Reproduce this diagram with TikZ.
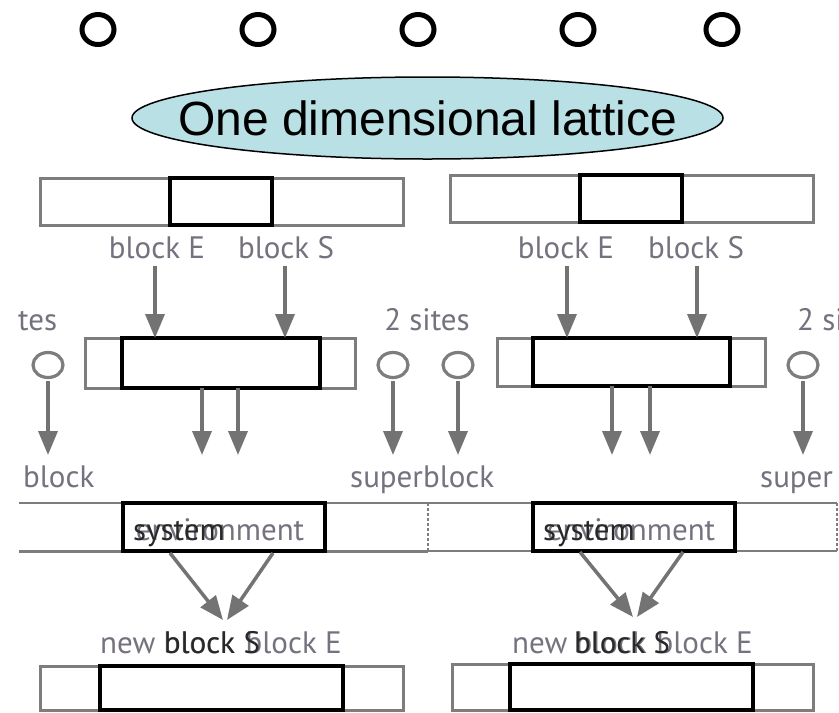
\documentclass[tikz,border=0pt]{standalone}
\usepackage{fontspec}
\setmainfont{Liberation Sans}
\newfontfamily\ptsans{PT Sans}
\usetikzlibrary{arrows.meta,shapes.geometric}
\definecolor{ellfill}{RGB}{185,224,228}
\definecolor{lblgray}{RGB}{118,113,126}
\definecolor{arrgray}{RGB}{115,115,115}
\definecolor{boxgray}{RGB}{125,125,125}
\definecolor{darktxt}{RGB}{40,40,40}
\newcommand\lblsize{\ptsans\fontsize{31pt}{31pt}\selectfont}
\begin{document}
\begin{tikzpicture}[x=1pt,y=-1pt,
  bigO/.style={draw=black, ellipse, line width=5pt, minimum width=32pt, minimum height=30pt, inner sep=0pt},
  outerbox/.style={draw=boxgray, line width=3pt, inner sep=0pt, outer sep=0pt, fill=white},
  innerbox/.style={draw=black, line width=4pt, inner sep=0pt, outer sep=0pt},
  lbl/.style={text=lblgray, font=\lblsize, inner sep=0pt, anchor=base},
  dlbl/.style={text=darktxt, font=\lblsize, inner sep=0pt, anchor=base},
  gar/.style={draw=arrgray, line width=3.5pt, -{Triangle[length=24pt,width=19pt]}},
  site/.style={draw=boxgray, ellipse, line width=3.2pt, minimum width=30pt, minimum height=25pt, inner sep=0pt},
  barline/.style={draw=boxgray, line width=2.5pt},
  dashedge/.style={draw=boxgray, line width=1.5pt, dashed, dash pattern=on 3pt off 2pt}
]
\useasboundingbox (0,0) rectangle (839,713);
\fill[white] (0,0) rectangle (839,713);

% top lattice sites
\foreach \i/\x in {1/98,2/258,3/418,4/578,5/722}{
  \node[bigO] (top\i) at (\x,29.5) {};
}
% title
\node[ellipse, draw=black, line width=1.5pt, fill=ellfill, minimum width=591pt, minimum height=82pt, inner sep=0pt] (title) at (427.5,118) {};
\node[font=\fontsize{48pt}{48pt}\selectfont, inner sep=0pt] (titletext) at (title.center) {One dimensional lattice};

% ===== LEFT PANEL =====
\node[outerbox, minimum width=363pt, minimum height=47pt] (Ltop) at (221.5,201.5) {};
\node[innerbox, minimum width=102pt, minimum height=47pt] (LtopIn) at (221,201.5) {};
\node[lbl] (LbE) at (157,258) {block E};
\node[lbl] (LbS) at (286,258) {block S};
\node[outerbox, minimum width=270pt, minimum height=50pt] (Lmid) at (220,363) {};
\node[innerbox, minimum width=198pt, minimum height=50pt] (LmidIn) at (221,363) {};
\draw[gar] (155,266) coordinate (LaE) -- (LaE |- LmidIn.north);
\draw[gar] (285,266) coordinate (LaS) -- (LaS |- LmidIn.north);
\node[lbl, anchor=base west] (Ltes) at (18,330) {tes};
\node[lbl] (sites2) at (427,330) {2 sites};
\node[site] (Ls1) at (48,365) {};
\node[site] (Ls2) at (393,365) {};
\coordinate (Ld1) at (202,455);
\coordinate (Ld2) at (238,455);
\draw[gar] (Ld1 |- LmidIn.south) -- (Ld1);
\draw[gar] (Ld2 |- LmidIn.south) -- (Ld2);
\coordinate (Lc1) at (48,455);
\coordinate (Lc2) at (393,455);
\draw[gar] (Ls1.south) ++(0,2) -- (Lc1);
\draw[gar] (Ls2.south) ++(0,2) -- (Lc2);
\node[lbl, anchor=base west] (Lblock) at (23,487) {block};
\node[lbl, anchor=base west] (Lsuper) at (350,487) {superblock};
% system / environment bar
\coordinate (Lbar1) at (19,503);
\coordinate (Lbar2) at (428,503);
\coordinate (Lbar3) at (19,551);
\coordinate (Lbar4) at (428,551);
\draw[barline, line width=1.8pt] (Lbar1) -- (Lbar2);
\draw[barline, line width=3pt] (Lbar3) -- (Lbar4);
\draw[dashedge] (Lbar2) -- (Lbar4);
\node[innerbox, minimum width=202pt, minimum height=48pt] (Lsys) at (224,527) {};
\node[lbl] (Lenv) at (220,540) {environment};
\node[dlbl, anchor=base west] (Lsystem) at (133,540) {system};
\coordinate (Lt1) at (223,620);
\coordinate (Lt2) at (227,620);
\draw[gar] (170,553) coordinate (Lf1) -- (Lt1);
\draw[gar] (273,553) coordinate (Lf2) -- (Lt2);
\node[lbl, anchor=base west] (Lnew) at (100,653) {new block};
\node[lbl, anchor=base east] (LnE) at (342,653) {block E};
\node[dlbl] (LnS) at (212,653) {block S};
\node[outerbox, minimum width=363pt, minimum height=44pt] (Lbot) at (221.5,688) {};
\node[innerbox, minimum width=243pt, minimum height=44pt] (LbotIn) at (221.5,688) {};

% ===== RIGHT PANEL =====
\node[outerbox, minimum width=363pt, minimum height=47pt] (Rtop) at (631.5,198.5) {};
\node[innerbox, minimum width=102pt, minimum height=47pt] (RtopIn) at (631,198.5) {};
\node[lbl] (RbE) at (566,258) {block E};
\node[lbl] (RbS) at (696,258) {block S};
\node[outerbox, minimum width=268pt, minimum height=48pt] (Rmid) at (631,362) {};
\node[innerbox, minimum width=197pt, minimum height=48pt] (RmidIn) at (631.5,362) {};
\draw[gar] (567,266) coordinate (RaE) -- (RaE |- RmidIn.north);
\draw[gar] (697,266) coordinate (RaS) -- (RaS |- RmidIn.north);
\node[lbl, anchor=base west] (Rsi) at (797,330) {2 si};
\node[site] (Rs1) at (458,365) {};
\node[site] (Rs2) at (803,365) {};
\coordinate (Rd1) at (612,455);
\coordinate (Rd2) at (650,455);
\draw[gar] (Rd1 |- RmidIn.south) -- (Rd1);
\draw[gar] (Rd2 |- RmidIn.south) -- (Rd2);
\coordinate (Rc1) at (458,455);
\coordinate (Rc2) at (803,455);
\draw[gar] (Rs1.south) ++(0,2) -- (Rc1);
\draw[gar] (Rs2.south) ++(0,2) -- (Rc2);
\node[lbl, anchor=base west] (Rsuper) at (760,487) {super};
\coordinate (Rbar1) at (428,503);
\coordinate (Rbar2) at (837,503);
\coordinate (Rbar3) at (428,551);
\coordinate (Rbar4) at (837,551);
\draw[barline, line width=1.8pt] (Rbar1) -- (Rbar2);
\draw[barline, line width=1.8pt] (Rbar3) -- (Rbar4);
\draw[dashedge] (Rbar2) -- (Rbar4);
\node[innerbox, minimum width=202pt, minimum height=48pt] (Rsys) at (634,527) {};
\node[lbl] (Renv) at (631,540) {environment};
\node[dlbl, anchor=base west] (Rsystem) at (543,540) {system};
\coordinate (Rt1) at (633,617);
\coordinate (Rt2) at (637,617);
\draw[gar] (580,552) coordinate (Rf1) -- (Rt1);
\draw[gar] (683,552) coordinate (Rf2) -- (Rt2);
\node[lbl, anchor=base west] (Rnew) at (512,653) {new block};
\node[lbl, anchor=base east] (RnE) at (753,653) {block E};
\node[dlbl] (RnS) at (622,653) {block S};
\node[outerbox, minimum width=361pt, minimum height=46pt] (Rbot) at (632.5,687) {};
\node[innerbox, minimum width=243pt, minimum height=46pt] (RbotIn) at (631.5,687) {};
\end{tikzpicture}
\end{document}
